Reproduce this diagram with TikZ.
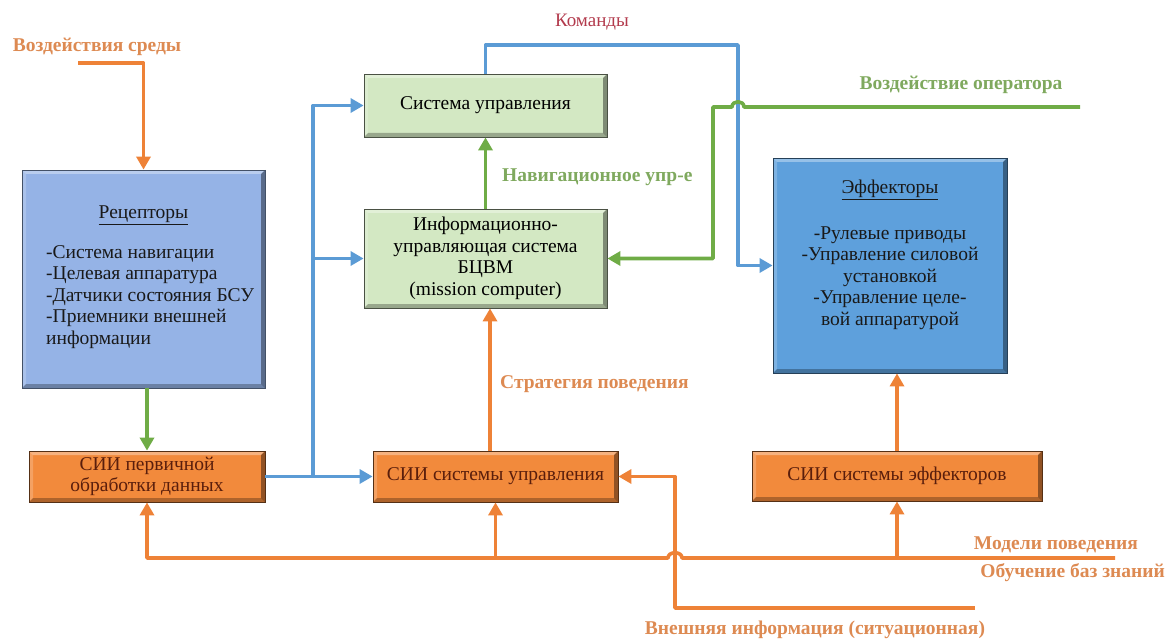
\documentclass[tikz,border=0pt]{standalone}
\usepackage{fontspec}
\setmainfont{Liberation Serif}
\usetikzlibrary{arrows.meta,calc}
\definecolor{lor}{HTML}{EE8237}
\definecolor{lgr}{HTML}{6FAC46}
\definecolor{lbl}{HTML}{5B9BD5}
\definecolor{tor}{HTML}{DD8A52}
\definecolor{tgr}{HTML}{7FA95E}
\definecolor{tred}{HTML}{B23A4C}
\definecolor{frec}{HTML}{95B3E6}
\definecolor{feff}{HTML}{5EA0DC}
\definecolor{fgrn}{HTML}{D3E8C3}
\definecolor{forg}{HTML}{F28A3C}
\definecolor{txor}{HTML}{5A1E0C}
\tikzset{
  bevel/.style={path picture={
    \fill[white,opacity=.35] (path picture bounding box.north west) -- (path picture bounding box.north east) -- ([shift={(-4pt,-4pt)}]path picture bounding box.north east) -- ([shift={(4pt,-4pt)}]path picture bounding box.north west) -- cycle;
    \fill[white,opacity=.2] (path picture bounding box.north west) -- ([shift={(4pt,-4pt)}]path picture bounding box.north west) -- ([shift={(4pt,4pt)}]path picture bounding box.south west) -- (path picture bounding box.south west) -- cycle;
    \fill[black,opacity=.28] (path picture bounding box.south west) -- (path picture bounding box.south east) -- ([shift={(-4pt,4pt)}]path picture bounding box.south east) -- ([shift={(4pt,4pt)}]path picture bounding box.south west) -- cycle;
    \fill[black,opacity=.4] (path picture bounding box.north east) -- (path picture bounding box.south east) -- ([shift={(-4pt,4pt)}]path picture bounding box.south east) -- ([shift={(-4pt,-4pt)}]path picture bounding box.north east) -- cycle;
  }},
  boxbase/.style={rectangle, inner sep=0pt, bevel, line width=0.8pt, font=\fontsize{19.5}{21.5}\selectfont, align=center},
  recbox/.style={boxbase, fill=frec, draw=frec!45!black},
  effbox/.style={boxbase, fill=feff, draw=feff!40!black},
  grnbox/.style={boxbase, fill=fgrn, draw=fgrn!35!black},
  orgbox/.style={boxbase, fill=forg, draw=forg!35!black, text=txor},
  boxtext/.style={inner sep=0pt, font=\fontsize{19.5}{21.5}\selectfont, text=black!90},
  tip/.style={-{Triangle[length=13pt,width=14pt]}},
  oline/.style={draw=lor, line width=3.6pt},
  gline/.style={draw=lgr, line width=3.6pt},
  bline/.style={draw=lbl, line width=3.6pt},
  lab/.style={inner sep=0pt, font=\bfseries\fontsize{19.5}{22}\selectfont},
}
\begin{document}
\begin{tikzpicture}[x=1pt,y=-1pt]
\useasboundingbox (0,0) rectangle (1173,639);
% boxes
\node[recbox, minimum width=243pt, minimum height=218pt] (rec) at (143.5,279) {};
\node[boxtext] (rect) at (143.5,215) {\underline{Рецепторы}};
\node[boxtext, align=left, anchor=west] (recl) at (46,297) {-Система навигации\\-Целевая аппаратура\\-Датчики состояния БСУ\\-Приемники внешней\\информации};
\node[orgbox, minimum width=236pt, minimum height=51pt] (pri) at (147,476.5) {СИИ первичной\\обработки данных};
\node[grnbox, minimum width=243pt, minimum height=63pt] (su) at (485.5,105.5) {Система управления};
\node[grnbox, minimum width=243pt, minimum height=99pt] (ius) at (485.5,258.5) {Информационно-\\управляющая система\\БЦВМ\\(mission computer)};
\node[effbox, minimum width=234pt, minimum height=215pt] (eff) at (890,265.5) {};
\node[boxtext] (efft) at (890,190) {\underline{Эффекторы}};
\node[boxtext, align=center] (effl) at (890,278) {-Рулевые приводы\\-Управление силовой\\установкой\\-Управление целе-\\вой аппаратурой};
\node[orgbox, minimum width=245pt, minimum height=51pt] (siu) at (495.5,476.5) {СИИ системы управления};
\node[orgbox, minimum width=290pt, minimum height=50pt] (sie) at (897,476) {СИИ системы эффекторов};
% coordinates
\coordinate (env) at (78,63);
\coordinate (bj) at (313,476.5);
\coordinate (k1) at (738,45);
\coordinate (op) at (1080,107);
\coordinate (mod) at (1115,558);
\coordinate (vn) at (975,608);
\coordinate (sx) at (490,0);
% orange
\draw[oline, tip, line join=round] (env) -| (rec.north);
\draw[oline, tip] (siu.north -| sx) -- (ius.south -| sx);
\draw[oline, tip] (sie.north) -- (sie.north |- eff.south);
\draw[oline, tip, line join=round] (mod) -- (682,558) .. controls (682,551) and (668,551) .. (668,558) -- (pri.south |- mod) -- (pri.south);
\draw[oline, tip] (siu.south |- mod) -- (siu.south);
\draw[oline, tip] (sie.south |- mod) -- (sie.south);
\draw[oline, tip, line join=round] (vn) -| (675,476.5) -- (siu.east);
% green
\draw[gline, tip] (rec.south -| pri.north) -- (pri.north);
\draw[gline, tip] (ius.north) -- (su.south);
% blue
\draw[bline, tip] (pri.east) -- (siu.west);
\draw[bline, tip, line join=round] (bj) |- (su.west);
\draw[bline, tip] (bj |- ius.west) -- (ius.west);
\draw[bline, tip, line join=round] (su.north) |- (k1) |- (eff.west);
% operator (hops over blue)
\draw[gline, tip, line join=round] (op) -- (744,107) .. controls (744,100) and (732,100) .. (732,107) -- (713,107) |- (ius.east);
% labels
\node[lab, text=tor] (l1) at (97,47) {Воздействия среды};
\node[inner sep=0pt, font=\fontsize{19}{22}\selectfont, text=tred] (l2) at (592,22) {Команды};
\node[lab, text=tgr] (l3) at (961,85) {Воздействие оператора};
\node[lab, text=tgr, anchor=west] (l4) at (502,177) {Навигационное упр-е};
\node[lab, text=tor, anchor=west] (l5) at (500,384) {Стратегия поведения};
\node[lab, text=tor, anchor=east] (l6) at (1138,545) {Модели поведения};
\node[lab, text=tor, anchor=east] (l7) at (1165,573) {Обучение баз знаний};
\node[lab, text=tor] (l8) at (815,630) {Внешняя информация (ситуационная)};
\end{tikzpicture}
\end{document}
